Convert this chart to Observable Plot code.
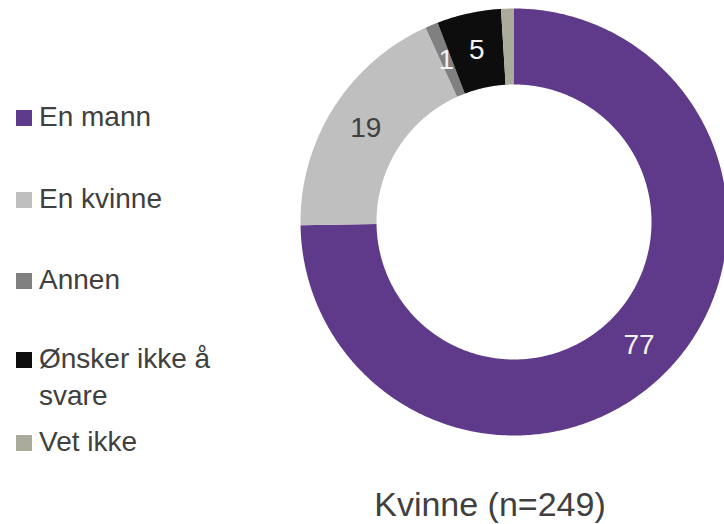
<!DOCTYPE html>
<html>
<head>
<meta charset="utf-8">
<script src="https://cdn.jsdelivr.net/npm/d3@7"></script>
<script src="https://cdn.jsdelivr.net/npm/@observablehq/plot@0.6"></script>
<style>
  html, body { margin: 0; padding: 0; background: #fff; }
  #wrap { position: relative; width: 724px; height: 524px; overflow: hidden;
          font-family: "Liberation Sans", Arial, sans-serif; color: #404040; }
  #chart { position: absolute; left: 0; top: 0; }
  .item { position: absolute; left: 0; font-size: 28px; line-height: 28px; }
  .item .sw { position: absolute; left: 16px; width: 16px; height: 16px; }
  .item .tx { position: absolute; left: 39px; width: 190px; white-space: normal; }
  #caption { position: absolute; left: 290px; width: 400px; text-align: center;
             font-size: 34px; line-height: 34px; top: 487px; }
</style>
</head>
<body>
<div id="wrap">
  <div id="chart"></div>
  <div id="legend"></div>
  <div id="caption"></div>
</div>
<script>
// ---- data ----
const categories = ["En mann", "En kvinne", "Annen", "Ønsker ikke å svare", "Vet ikke"];
const values = [77, 19, 1, 5, 1];
const colors = ["#603a8a", "#bfbfbf", "#808080", "#0d0d0d", "#abab9c"];
const hiddenLabels = ["Vet ikke"];
const darkLabelCategories = ["En kvinne"];
const captionText = "Kvinne (n=249)";

// ---- geometry (layout) ----
const W = 724, H = 460;
const R = 213.5;            // outer radius px
const cx = 513.5, cy = 221.5;
const innerFrac = 137.5 / R;
const midFrac = (1 + innerFrac) / 2;

const table = categories.map((c, i) => ({category: c, value: values[i]}));
const arcs = d3.pie().value(d => d.value).sort(null).startAngle(0).endAngle(2 * Math.PI)(table);

// polygon outlines in data units (outer radius = 1), angle clockwise from top
const poly = [];
arcs.forEach(a => {
  const n = Math.max(4, Math.ceil((a.endAngle - a.startAngle) / 0.01));
  for (let k = 0; k <= n; k++) {
    const t = a.startAngle + (a.endAngle - a.startAngle) * k / n;
    poly.push({category: a.data.category, x: Math.sin(t), y: Math.cos(t)});
  }
  for (let k = n; k >= 0; k--) {
    const t = a.startAngle + (a.endAngle - a.startAngle) * k / n;
    poly.push({category: a.data.category, x: innerFrac * Math.sin(t), y: innerFrac * Math.cos(t)});
  }
});
const labels = arcs.filter(a => !hiddenLabels.includes(a.data.category)).map(a => {
  const t = (a.startAngle + a.endAngle) / 2;
  return {category: a.data.category, value: a.data.value, x: midFrac * Math.sin(t), y: midFrac * Math.cos(t)};
});

const chart = Plot.plot({
  width: W, height: H, margin: 0,
  style: {fontFamily: '"Liberation Sans", Arial, sans-serif', background: "transparent"},
  x: {domain: [-cx / R, (W - cx) / R], axis: null},
  y: {domain: [-(H - cy) / R, cy / R], axis: null},
  color: {domain: categories, range: colors},
  marks: [
    Plot.line(poly, {x: "x", y: "y", z: "category", fill: "category", stroke: "none", curve: "linear-closed"}),
    Plot.text(labels.filter(d => darkLabelCategories.includes(d.category)),
      {x: "x", y: "y", text: d => String(d.value), fill: "#404040", fontSize: 28}),
    Plot.text(labels.filter(d => !darkLabelCategories.includes(d.category)),
      {x: "x", y: "y", text: d => String(d.value), fill: "#f2f2f2", fontSize: 28})
  ]
});
document.getElementById("chart").appendChild(chart);

// ---- legend (HTML) ----
const legendTops = [103, 185, 266, 340, 428];
const legend = document.getElementById("legend");
categories.forEach((c, i) => {
  const item = document.createElement("div");
  item.className = "item";
  item.style.top = legendTops[i] + "px";
  const multi = i === 3;
  if (multi) item.style.lineHeight = "37px";
  const sw = document.createElement("div");
  sw.className = "sw";
  sw.style.background = colors[i];
  sw.style.top = (multi ? 12 : 7) + "px";
  const tx = document.createElement("div");
  tx.className = "tx";
  tx.textContent = c;
  if (multi) tx.style.width = "180px";
  item.appendChild(sw);
  item.appendChild(tx);
  legend.appendChild(item);
});
document.getElementById("caption").textContent = captionText;
</script>
</body>
</html>
